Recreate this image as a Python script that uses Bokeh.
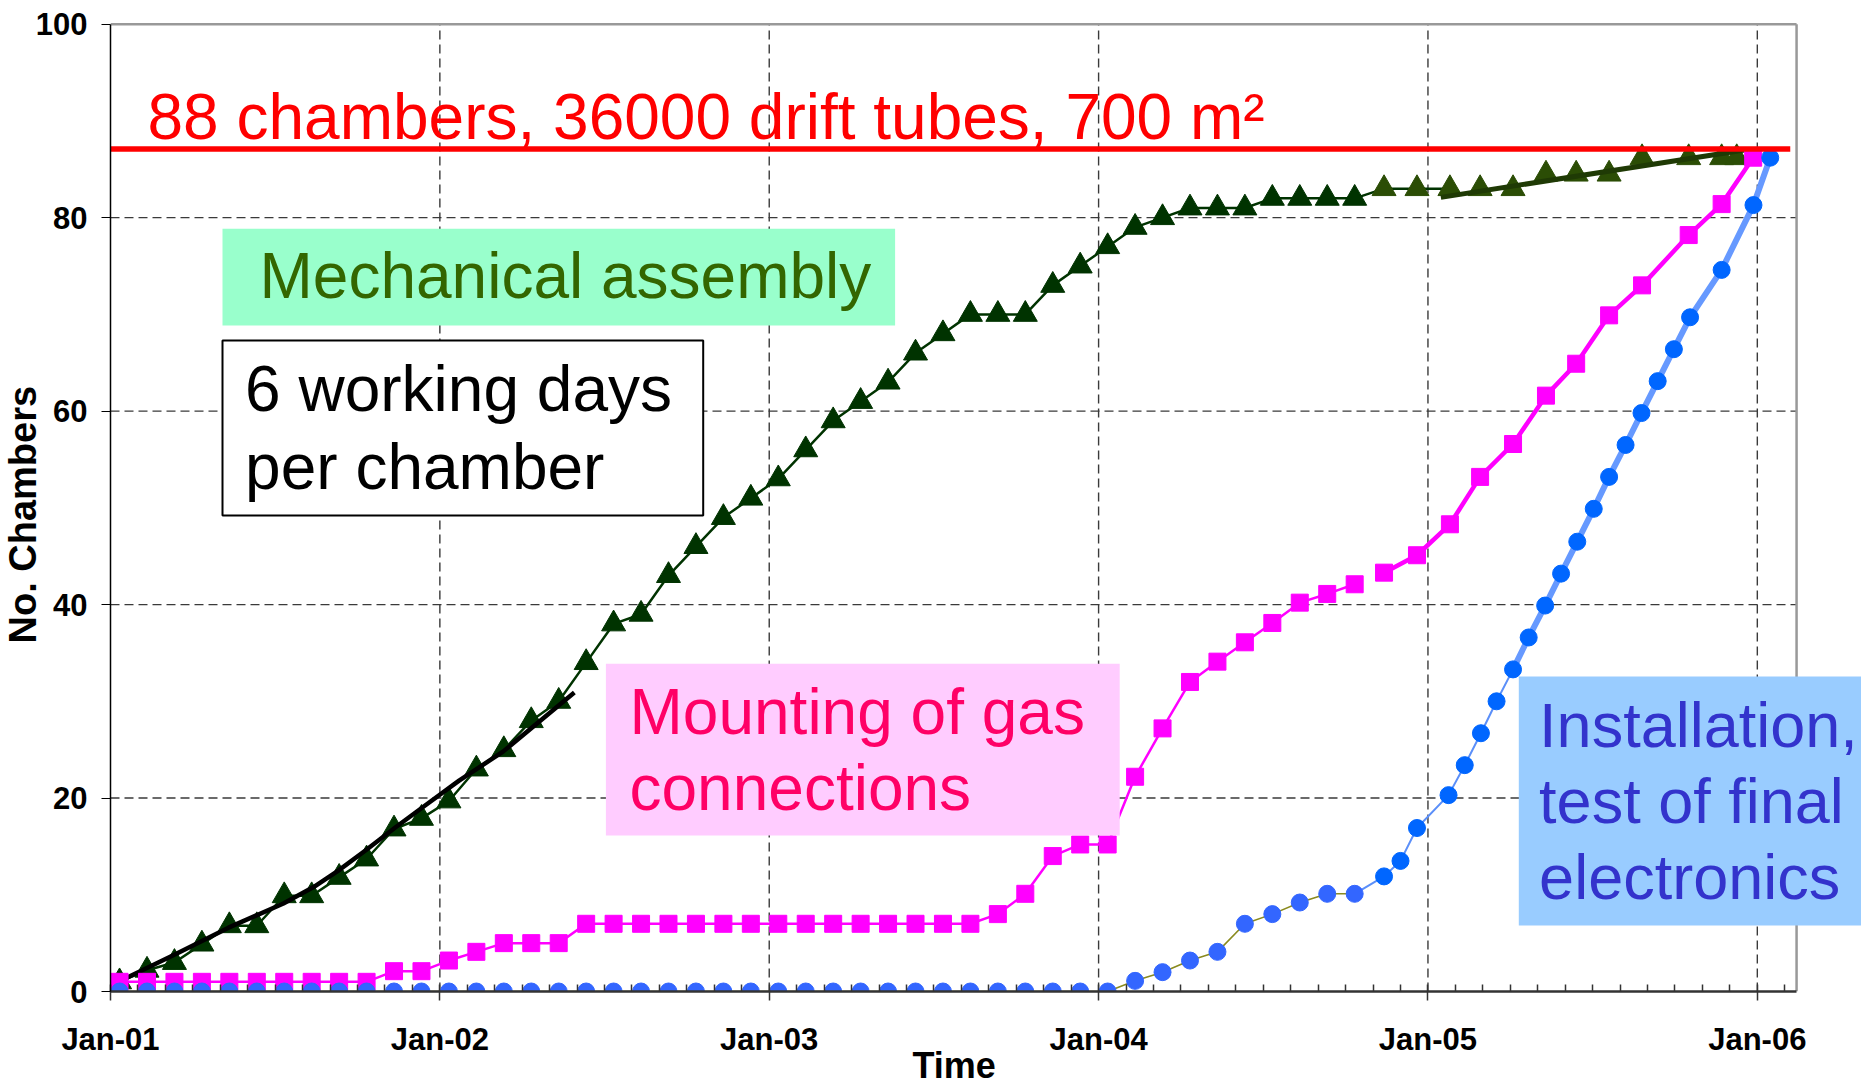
import math
from bokeh.plotting import figure
from bokeh.models import FixedTicker, Range1d, BoxAnnotation, Label, Title
from bokeh.embed import file_html
from bokeh.resources import INLINE

# ---------------- data (x in months since Jan 2001) ----------------
tick_months = [0, 12, 24, 36, 48, 60]
tick_labels = ["Jan-01", "Jan-02", "Jan-03", "Jan-04", "Jan-05", "Jan-06"]
minor_months = [1, 2, 3, 4, 5, 6, 7, 8, 9, 10, 11, 13, 14, 15, 16, 17, 18, 19, 20, 21, 22, 23,
                25, 26, 27, 28, 29, 30, 31, 32, 33, 34, 35, 37, 38, 39, 40, 41, 42, 43, 44, 45,
                46, 47, 49, 50, 51, 52, 53, 54, 55, 56, 57, 58, 59, 61]
y_ticks = [0, 20, 40, 60, 80, 100]
y_grid = [20, 40, 60, 80]
x_grid = [12, 24, 36, 48, 60]

monthly_x = [0.33, 1.33, 2.33, 3.33, 4.33, 5.33, 6.33, 7.33, 8.33, 9.33,
             10.33, 11.33, 12.33, 13.33, 14.33, 15.33, 16.33, 17.33, 18.33, 19.33,
             20.33, 21.33, 22.33, 23.33, 24.33, 25.33, 26.33, 27.33, 28.33, 29.33,
             30.33, 31.33, 32.33, 33.33, 34.33, 35.33, 36.33, 37.33, 38.33, 39.33,
             40.33, 41.33, 42.33, 43.33, 44.33, 45.33]

# Mechanical assembly (triangles)
mech_x = monthly_x + [46.4, 47.6, 48.8, 49.9, 51.1, 52.3, 53.4, 54.6, 55.8, 57.5, 58.7, 59.25]
mech_y = [1, 2.2, 3.0, 4.9, 6.8, 6.8, 9.9, 9.9, 11.8, 13.7,
          16.8, 17.9, 19.7, 23, 25, 28, 30, 34, 38, 39,
          43, 46, 49, 51, 53, 56, 59, 61, 63, 66,
          68, 70, 70, 70, 73, 75, 77, 79, 80, 81,
          81, 81, 82, 82, 82, 82,
          83, 83, 83, 83, 83, 84.5, 84.5, 84.5, 86.2, 86.2, 86.2, 86.2]

# Mounting of gas connections (squares)
gas_x = monthly_x + [46.4, 47.6, 48.8, 49.9, 51.1, 52.3, 53.4, 54.6, 55.8, 57.5, 58.7, 59.85]
gas_y = [1, 1, 1, 1, 1, 1, 1, 1, 1, 1,
         2.1, 2.1, 3.2, 4.1, 5, 5, 5, 7, 7, 7,
         7, 7, 7, 7, 7, 7, 7, 7, 7, 7,
         7, 7, 8, 10.1, 14, 15.2, 15.2, 22.2, 27.2, 32,
         34.1, 36.1, 38.1, 40.2, 41.1, 42.1,
         43.3, 45.1, 48.3, 53.2, 56.6, 61.6, 64.9, 69.9, 73.0, 78.2, 81.4, 86.2]

# Installation, test of final electronics (circles)
inst_x = monthly_x + [46.4, 47.0, 47.6, 48.75, 49.34, 49.93, 50.5, 51.1, 51.67, 52.27, 52.85,
                      53.44, 54.04, 54.6, 55.2, 55.78, 56.37, 56.96, 57.55, 58.7, 59.86, 60.47]
inst_y = [0, 0, 0, 0, 0, 0, 0, 0, 0, 0,
          0, 0, 0, 0, 0, 0, 0, 0, 0, 0,
          0, 0, 0, 0, 0, 0, 0, 0, 0, 0,
          0, 0, 0, 0, 0, 0, 0, 1.1, 2.0, 3.2,
          4.1, 7.0, 8.0, 9.2, 10.1, 10.1,
          11.9, 13.5, 16.9, 20.3, 23.4, 26.7, 30.0, 33.3, 36.6, 39.9, 43.2,
          46.5, 49.9, 53.2, 56.5, 59.8, 63.1, 66.4, 69.7, 74.6, 81.3, 86.2]

# "6 working days per chamber" trend curve and final assembly trend
trend_x = [-0.35, 0.65, 2.4, 4.3, 6.3, 7.4, 8.3, 9.3, 10.4, 11.4, 12.7, 14.3, 16.9]
trend_y = [0, 1.5, 3.9, 6.6, 9.1, 10.8, 12.5, 14.6, 17.0, 19.1, 21.8, 24.8, 30.9]
final_x = [48.47, 59.53]
final_y = [82.1, 87.0]

target_level = 87.1
target_end = 61.2
plot_end = 61.43      # right border of the plotting area (months)
y_top = 100

# ---------------- layout (page pixels) ----------------
W, H = 1861, 1085
FL = 110             # left of plot area = Jan-01
FB = 991             # bottom of plot area = 0
PX_PER_MONTH = 27.447
PX_PER_UNIT = 9.673
XMAX = (W - FL) / PX_PER_MONTH
YMAX = FB / PX_PER_UNIT


def dx(px):
    return (px - FL) / PX_PER_MONTH


def dy(py):
    return (FB - py) / PX_PER_UNIT


p = figure(width=W, height=H, x_range=Range1d(0, XMAX), y_range=Range1d(0, YMAX),
           output_backend="svg", toolbar_location=None,
           min_border_left=FL, min_border_right=0, min_border_top=0,
           min_border_bottom=H - FB, background_fill_color="white",
           border_fill_color="white")
p.outline_line_color = None
p.xgrid.visible = False
p.ygrid.visible = False

FONT = "Liberation Sans"

# x axis
p.xaxis.bounds = (0, plot_end)
p.xaxis.ticker = FixedTicker(ticks=tick_months, minor_ticks=minor_months)
p.xaxis.major_label_overrides = {m: l for m, l in zip(tick_months, tick_labels)}
p.xaxis.major_label_text_font = FONT
p.xaxis.major_label_text_font_size = "31px"
p.xaxis.major_label_text_font_style = "bold"
p.xaxis.major_label_text_color = "black"
p.xaxis.major_label_standoff = 21
p.xaxis.major_tick_out = 9
p.xaxis.major_tick_in = 7
p.xaxis.minor_tick_in = 7
p.xaxis.minor_tick_out = 0
p.xaxis.axis_line_color = "#333333"
p.xaxis.axis_line_width = 2.5
p.xaxis.major_tick_line_color = "#333333"
p.xaxis.minor_tick_line_color = "#333333"
p.xaxis.major_tick_line_width = 1.5
p.xaxis.minor_tick_line_width = 1.5

# y axis
p.yaxis.bounds = (0, y_top)
p.yaxis.ticker = FixedTicker(ticks=y_ticks, minor_ticks=[])
p.yaxis.major_label_text_font = FONT
p.yaxis.major_label_text_font_size = "31px"
p.yaxis.major_label_text_font_style = "bold"
p.yaxis.major_label_text_color = "black"
p.yaxis.major_label_standoff = 14
p.yaxis.major_tick_out = 9
p.yaxis.major_tick_in = 0
p.yaxis.minor_tick_out = 0
p.yaxis.axis_line_color = "black"
p.yaxis.axis_line_width = 1.5
p.yaxis.major_tick_line_color = "black"

# axis titles, centred on the plotting area (not on the whole frame)
p.add_layout(Title(text="Time", align="left", offset=802, vertical_align="top",
                   standoff=-29, text_font=FONT, text_font_size="36px",
                   text_font_style="bold", text_color="black"), "below")
p.add_layout(Title(text="No. Chambers", align="left", offset=348, vertical_align="middle",
                   standoff=-25, text_font=FONT, text_font_size="38px",
                   text_font_style="bold", text_color="black"), "left")

# dashed grid lines limited to the plot area
p.segment(x0=[0] * len(y_grid), y0=y_grid, x1=[plot_end] * len(y_grid), y1=y_grid,
          line_color="#3a3a3a", line_dash="9 5", line_width=1.4)
p.segment(x0=x_grid, y0=[0] * len(x_grid), x1=x_grid, y1=[y_top] * len(x_grid),
          line_color="#3a3a3a", line_dash="9 5", line_width=1.4)
# top and right border of the plot area
p.segment(x0=[0, plot_end], y0=[y_top, 0], x1=[plot_end, plot_end], y1=[y_top, y_top],
          line_color="#999999", line_width=2.5)

# ---------------- series ----------------
n_early = len(monthly_x)

# mechanical assembly
p.line(mech_x[:n_early + 3], mech_y[:n_early + 3], line_color="#003300", line_width=2.5)
mech_colors = ["#003300"] * n_early + ["#2b4d05"] * (len(mech_x) - n_early)
p.scatter(mech_x, mech_y, marker="triangle", size=24, fill_color=mech_colors,
          line_color=mech_colors)
p.line(trend_x, trend_y, line_color="black", line_width=4.5)
p.line(final_x, final_y, line_color="#1f3a05", line_width=5)

# gas connections
p.line(gas_x[:n_early], gas_y[:n_early], line_color="#ff00ff", line_width=2.5)
p.line(gas_x[n_early:], gas_y[n_early:], line_color="#ff00ff", line_width=4.5)
p.scatter(gas_x, gas_y, marker="square", size=17, fill_color="#ff00ff", line_color="#ff00ff")

# installation
i_thick = n_early + 7
p.line(inst_x[:n_early], inst_y[:n_early], line_color="#8a8a1e", line_width=1.6)
p.line(inst_x[n_early - 1:i_thick + 1], inst_y[n_early - 1:i_thick + 1],
       line_color="#5b8ff9", line_width=2)
p.line(inst_x[i_thick:], inst_y[i_thick:], line_color="#6699ff", line_width=6)
inst_colors = ["#3366ff"] * n_early + ["#0066ff"] * (len(inst_x) - n_early)
p.scatter(inst_x, inst_y, marker="circle", size=17, fill_color=inst_colors,
          line_color=inst_colors)

# target level
p.line([0, target_end], [target_level, target_level], line_color="#ff0000", line_width=5.7)

# ---------------- annotations ----------------
def box(l, r, t, b, fill, line=None, lw=0):
    p.add_layout(BoxAnnotation(left=dx(l), right=dx(r), top=dy(t), bottom=dy(b),
                               fill_color=fill, fill_alpha=1.0,
                               line_color=line, line_width=lw, line_alpha=1.0))


def text(x, baseline_y, s, color, size=64):
    # shift so that the glyph baseline lands on baseline_y
    p.add_layout(Label(x=dx(x), y=dy(baseline_y - 0.347 * size), text=s, text_color=color,
                       text_font=FONT, text_font_size=f"{size}px", text_align="left",
                       text_baseline="alphabetic"))


text(147, 138.3, "88 chambers, 36000 drift tubes, 700 m²", "#ff0000")

box(222, 894.6, 228.3, 325, "#99ffcc")
text(259, 297.7, "Mechanical assembly", "#336600")

box(222, 702.7, 340, 515, "white", "black", 2)
text(244.6, 411, "6 working days", "black")
text(244.6, 488.3, "per chamber", "black")

box(605.4, 1119.2, 663.3, 835, "#ffccff")
text(629, 733.3, "Mounting of gas", "#ff0066")
text(629, 810, "connections", "#ff0066")

box(1518.3, 1875, 676, 925, "#99ccff")
text(1538.6, 746.7, "Installation,", "#3333cc", 63)
text(1538.6, 822.7, "test of final", "#3333cc", 63)
text(1538.6, 898.3, "electronics", "#3333cc", 63)

open("out.html", "w").write(file_html(p, INLINE))
